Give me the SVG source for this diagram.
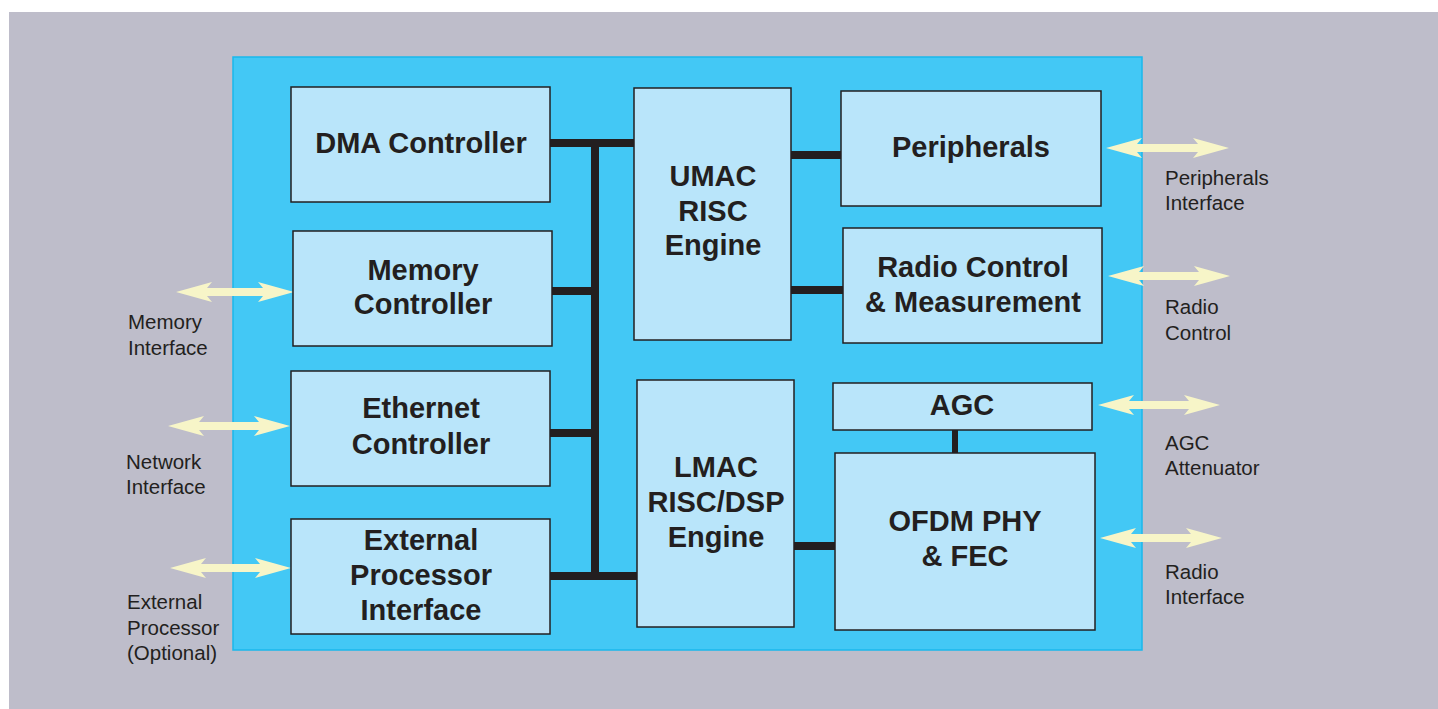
<svg xmlns="http://www.w3.org/2000/svg" width="1438" height="709" viewBox="0 0 1438 709">
<style>
.box{fill:#b9e5fa;stroke:#231f20;stroke-width:1.5}
.bt{font-family:"Liberation Sans",Arial,sans-serif;font-weight:bold;font-size:29px;fill:#231f20;text-anchor:middle}
.lt{font-family:"Liberation Sans",Arial,sans-serif;font-size:20.5px;fill:#231f20}
.bus{stroke:#231f20;stroke-width:8;fill:none}
.arr{fill:#f7f5c8}
</style>
<rect x="0" y="0" width="1438" height="709" fill="#ffffff"/>
<rect x="9" y="12" width="1429" height="697" fill="#bebdca"/>
<rect x="233" y="57" width="909" height="593" fill="#43c8f5" stroke="#1ab8ec" stroke-width="1.5"/>

<g id="connectors">
<line class="bus" x1="550" y1="143" x2="634" y2="143"/>
<line class="bus" x1="595" y1="139" x2="595" y2="580"/>
<line class="bus" x1="552" y1="291" x2="595" y2="291"/>
<line class="bus" x1="550" y1="433" x2="595" y2="433"/>
<line class="bus" x1="550" y1="576" x2="637" y2="576"/>
<line class="bus" x1="791" y1="155" x2="841" y2="155"/>
<line class="bus" x1="791" y1="290" x2="843" y2="290"/>
<line class="bus" x1="794" y1="546" x2="835" y2="546"/>
<line class="bus" x1="955" y1="430" x2="955" y2="453" style="stroke-width:6"/>
<path class="arr" d="M176,292 L212,282 L207,288 L263,288 L258,282 L294,292 L258,302 L263,296 L207,296 L212,302 Z"/>
<path class="arr" d="M168,426 L204,416 L199,422 L259,422 L254,416 L290,426 L254,436 L259,430 L199,430 L204,436 Z"/>
<path class="arr" d="M170,568 L206,558 L201,564 L260,564 L255,558 L291,568 L255,578 L260,572 L201,572 L206,578 Z"/>
<path class="arr" d="M1106,148 L1142,138 L1137,144 L1198,144 L1193,138 L1229,148 L1193,158 L1198,152 L1137,152 L1142,158 Z"/>
<path class="arr" d="M1108,276 L1144,266 L1139,272 L1199,272 L1194,266 L1230,276 L1194,286 L1199,280 L1139,280 L1144,286 Z"/>
<path class="arr" d="M1098,405 L1134,395 L1129,401 L1189,401 L1184,395 L1220,405 L1184,415 L1189,409 L1129,409 L1134,415 Z"/>
<path class="arr" d="M1100,538 L1136,528 L1131,534 L1191,534 L1186,528 L1222,538 L1186,548 L1191,542 L1131,542 L1136,548 Z"/>
</g>

<g id="dma">
<rect class="box" x="291" y="87" width="259" height="115"/>
<text class="bt" x="421" y="153">DMA Controller</text>
</g>
<g id="memory">
<rect class="box" x="293" y="231" width="259" height="115"/>
<text class="bt" x="423" y="280">Memory</text>
<text class="bt" x="423" y="314">Controller</text>
</g>
<g id="ethernet">
<rect class="box" x="291" y="371" width="259" height="115"/>
<text class="bt" x="421" y="418">Ethernet</text>
<text class="bt" x="421" y="454">Controller</text>
</g>
<g id="extproc">
<rect class="box" x="291" y="519" width="259" height="115"/>
<text class="bt" x="421" y="550">External</text>
<text class="bt" x="421" y="585">Processor</text>
<text class="bt" x="421" y="620">Interface</text>
</g>
<g id="umac">
<rect class="box" x="634" y="88" width="157" height="252"/>
<text class="bt" x="713" y="186">UMAC</text>
<text class="bt" x="713" y="221">RISC</text>
<text class="bt" x="713" y="255">Engine</text>
</g>
<g id="lmac">
<rect class="box" x="637" y="380" width="157" height="247"/>
<text class="bt" x="716" y="477">LMAC</text>
<text class="bt" x="716" y="512">RISC/DSP</text>
<text class="bt" x="716" y="547">Engine</text>
</g>
<g id="peripherals">
<rect class="box" x="841" y="91" width="260" height="115"/>
<text class="bt" x="971" y="157">Peripherals</text>
</g>
<g id="radioctrl">
<rect class="box" x="843" y="228" width="259" height="115"/>
<text class="bt" x="973" y="277">Radio Control</text>
<text class="bt" x="973" y="312">&amp; Measurement</text>
</g>
<g id="agc">
<rect class="box" x="833" y="383" width="259" height="47"/>
<text class="bt" x="962" y="415">AGC</text>
</g>
<g id="ofdm">
<rect class="box" x="835" y="453" width="260" height="177"/>
<text class="bt" x="965" y="531">OFDM PHY</text>
<text class="bt" x="965" y="566">&amp; FEC</text>
</g>

<g id="labels">
<text class="lt" x="128" y="329">Memory</text>
<text class="lt" x="128" y="355">Interface</text>
<text class="lt" x="126" y="469">Network</text>
<text class="lt" x="126" y="494">Interface</text>
<text class="lt" x="127" y="609">External</text>
<text class="lt" x="127" y="635">Processor</text>
<text class="lt" x="127" y="660">(Optional)</text>
<text class="lt" x="1165" y="185">Peripherals</text>
<text class="lt" x="1165" y="210">Interface</text>
<text class="lt" x="1165" y="314">Radio</text>
<text class="lt" x="1165" y="340">Control</text>
<text class="lt" x="1165" y="450">AGC</text>
<text class="lt" x="1165" y="475">Attenuator</text>
<text class="lt" x="1165" y="579">Radio</text>
<text class="lt" x="1165" y="604">Interface</text>
</g>
</svg>
